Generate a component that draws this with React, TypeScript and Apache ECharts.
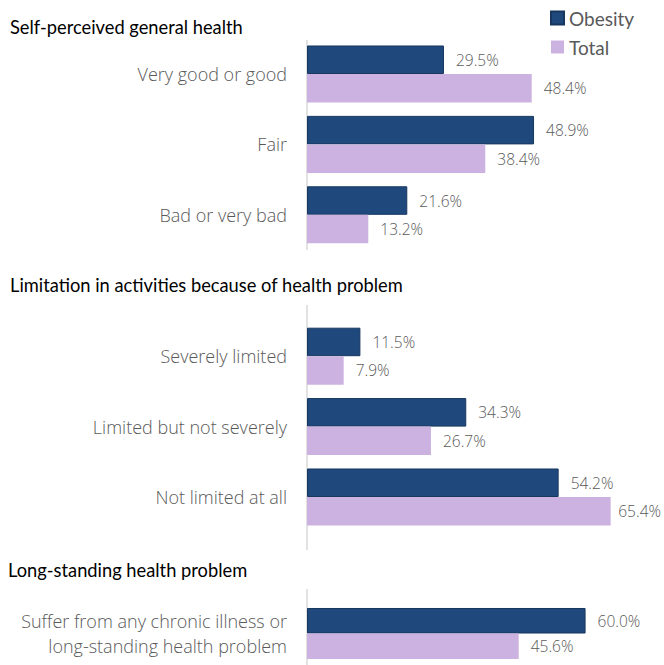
import React, { useEffect, useRef } from "react";
import * as echarts from "echarts";

const seriesNames = ["Obesity", "Total"];

const sectionTitles = [
  "Self-perceived general health",
  "Limitation in activities because of health problem",
  "Long-standing health problem",
];

const categories1 = ["Very good or good", "Fair", "Bad or very bad"];
const obesity1 = [29.5, 48.9, 21.6];
const total1 = [48.4, 38.4, 13.2];

const categories2 = ["Severely limited", "Limited but not severely", "Not limited at all"];
const obesity2 = [11.5, 34.3, 54.2];
const total2 = [7.9, 26.7, 65.4];

const categories3 = ["Suffer from any chronic illness or\nlong-standing health problem"];
const obesity3 = [60.0];
const total3 = [45.6];

const GRAY = "#595959";
const BLUE = "#1F497D";
const LAVENDER = "#CCB2E0";

export default function App() {
  const ref = useRef<HTMLDivElement>(null);

  useEffect(() => {
    document.body.style.margin = "0";
    if (!ref.current) return;
    const chart = echarts.init(ref.current, undefined, { renderer: "svg" });

    const grids = [
      { left: 307, width: 325, top: 38.8, height: 211.2 },
      { left: 307, width: 325, top: 321, height: 211.2 },
      { left: 307, width: 325, top: 602, height: 70.4 },
    ];
    const cats = [categories1, categories2, categories3];
    const obs = [obesity1, obesity2, obesity3];
    const tots = [total1, total2, total3];

    const labelCfg = {
      show: true,
      position: "right",
      distance: 12,
      color: GRAY,
      fontFamily: "Open Sans",
      fontWeight: 300,
      fontSize: 15.5,
      formatter: (p: any) => Number(p.value).toFixed(1) + "%",
    };

    // keep labels inside the chart's right edge, as the original does
    const keepInside = (params: any) => {
      const r = params.labelRect;
      const over = r.x + r.width - 661;
      return over > 0 ? { dx: -over } : {};
    };

    const series: any[] = [];
    cats.forEach((_, i) => {
      series.push({
        name: seriesNames[0],
        type: "bar",
        xAxisIndex: i,
        yAxisIndex: i,
        data: obs[i],
        barGap: "0%",
        barCategoryGap: "19%",
        itemStyle: { color: BLUE, borderColor: "#17375E", borderWidth: 1 },
        label: labelCfg,
        labelLayout: keepInside,
      });
      series.push({
        name: seriesNames[1],
        type: "bar",
        xAxisIndex: i,
        yAxisIndex: i,
        data: tots[i],
        barGap: "0%",
        barCategoryGap: "19%",
        itemStyle: { color: LAVENDER },
        label: labelCfg,
        labelLayout: keepInside,
      });
    });

    const axisLineSegs = [
      [40, 250],
      [305, 550],
      [589, 665],
    ];

    chart.setOption({
      animation: false,
      title: [
        { text: sectionTitles[0], left: 10, top: 18 },
        { text: sectionTitles[1], left: 10, top: 276 },
        { text: sectionTitles[2], left: 8, top: 561 },
      ].map((t) => ({
        ...t,
        padding: 0,
        textStyle: { fontFamily: "Lato", fontSize: 18.3, fontWeight: "normal", color: "#000000" },
      })),
      legend: {
        orient: "vertical",
        left: 545,
        top: 3,
        itemWidth: 13,
        itemHeight: 13,
        itemGap: 9,
        icon: "rect",
        data: seriesNames,
        textStyle: { fontFamily: "Lato", fontSize: 19, color: GRAY, lineHeight: 20 },
      },
      grid: grids,
      xAxis: grids.map((_, i) => ({
        type: "value",
        gridIndex: i,
        min: 0,
        max: 70,
        show: false,
      })),
      yAxis: cats.map((c, i) => ({
        type: "category",
        gridIndex: i,
        data: c,
        inverse: true,
        axisLine: { show: false },
        axisTick: { show: false },
        axisLabel: {
          margin: 20,
          color: GRAY,
          fontFamily: "Open Sans",
          fontWeight: 300,
          fontSize: 18,
          lineHeight: 25,
          align: "right",
        },
      })),
      graphic: axisLineSegs.map(([y1, y2]) => ({
        type: "line",
        shape: { x1: 307, y1, x2: 307, y2 },
        style: { stroke: "#D9D9D9", lineWidth: 1.5 },
        silent: true,
      })),
      series,
    });

    return () => chart.dispose();
  }, []);

  return <div ref={ref} style={{ width: 664, height: 665 }} />;
}
